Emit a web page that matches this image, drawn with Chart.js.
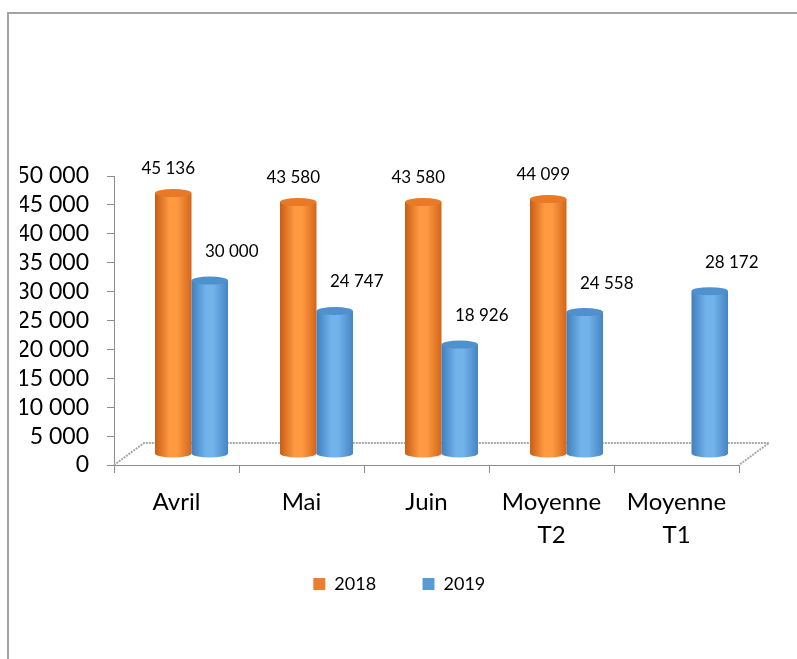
<!DOCTYPE html>
<html lang="fr">
<head>
  <meta charset="UTF-8">
  <title>2018 / 2019</title>
  <style>
    html, body { margin: 0; padding: 0; background: #fff; overflow: hidden; }
    #zone { position: relative; width: 797px; height: 659px; }
    #cadre {
      position: absolute; left: 7px; top: 12px; width: 900px; height: 700px;
      border-left: 2px solid #a3a3a3; border-top: 2px solid #a3a3a3;
    }
    #graphique { position: absolute; left: 0; top: 0; }
  </style>
</head>
<body>
  <div id="zone">
    <div id="cadre"></div>
    <canvas id="graphique" width="797" height="659"></canvas>
  </div>

  <script src="https://cdn.jsdelivr.net/npm/chart.js"></script>
  <script>
    // données
    const categories = ['Avril', 'Mai', 'Juin', ['Moyenne', 'T2'], ['Moyenne', 'T1']];
    const valeurs2018 = [45136, 43580, 43580, 44099, null];
    const valeurs2019 = [30000, 24747, 18926, 24558, 28172];
    const series = ['2018', '2019'];
    const ticksMax = 50000;
    const ticksPas = 5000;

    const POLICE = 'Lato, "Open Sans", sans-serif';
    const DX = 15, DY = -11, RY = 4;   // petit effet 3D

    function fmt(v) {
      return String(v).replace(/\B(?=(\d{3})+(?!\d))/g, ' ');
    }

    // teintes des cylindres: [bord sombre, clair, bord sombre, chapeau]
    const teintes = [
      ['#c95d15', '#ff9a42', '#d2661a', '#e87a27'],
      ['#3f7fbd', '#72b3ec', '#4684c2', '#4f90cf']
    ];

    function cylindre(ctx, l, r, t, b, tt) {
      const cx = (l + r) / 2, rx = (r - l) / 2;
      const g = ctx.createLinearGradient(l, 0, r, 0);
      g.addColorStop(0, tt[0]);
      g.addColorStop(0.4, tt[1]);
      g.addColorStop(0.6, tt[1]);
      g.addColorStop(1, tt[2]);
      ctx.fillStyle = g;
      ctx.beginPath();
      ctx.moveTo(l, t);
      ctx.lineTo(l, b);
      ctx.ellipse(cx, b, rx, RY, 0, Math.PI, 0, true);
      ctx.lineTo(r, t);
      ctx.closePath();
      ctx.fill();
      ctx.fillStyle = tt[3];
      ctx.beginPath();
      ctx.ellipse(cx, t, rx, RY, 0, 0, Math.PI * 2);
      ctx.fill();
    }

    const cylindres = {
      id: 'cylindres',
      beforeDatasetDraw() { return false; },
      beforeDatasetsDraw(chart) {
        // plancher
        const a = chart.chartArea, ctx = chart.ctx;
        ctx.save();
        ctx.strokeStyle = '#a8a8a8';
        ctx.lineWidth = 2;
        ctx.setLineDash([2, 1]);
        ctx.beginPath();
        ctx.moveTo(a.left, a.bottom);
        ctx.lineTo(a.left + 2 * DX, a.bottom + 2 * DY);
        ctx.lineTo(a.right + 2 * DX, a.bottom + 2 * DY);
        ctx.lineTo(a.right, a.bottom);
        ctx.stroke();
        ctx.restore();
      },
      afterDatasetsDraw(chart) {
        const ctx = chart.ctx;
        ctx.save();
        chart.data.datasets.forEach((ds, i) => {
          chart.getDatasetMeta(i).data.forEach((bar, j) => {
            if (ds.data[j] == null) return;
            const w = bar.width;
            cylindre(ctx, bar.x - w / 2 + DX, bar.x + w / 2 + DX, bar.y + DY, bar.base + DY, teintes[i]);
          });
        });
        // étiquettes de valeurs
        ctx.fillStyle = '#000';
        ctx.font = '17px ' + POLICE;
        ctx.textAlign = 'center';
        ctx.textBaseline = 'middle';
        chart.data.datasets.forEach((ds, i) => {
          chart.getDatasetMeta(i).data.forEach((bar, j) => {
            if (ds.data[j] == null) return;
            const ox = i === 0 ? -5 : 22;
            const oy = i === 0 ? 25 : 29;
            ctx.fillText(fmt(ds.data[j]), bar.x + DX + ox, bar.y + DY - oy);
          });
        });
        ctx.restore();
      }
    };

    new Chart(document.getElementById('graphique'), {
      type: 'bar',
      data: {
        labels: categories,
        datasets: [
          { label: series[0], data: valeurs2018, backgroundColor: '#ed7d31' },
          { label: series[1], data: valeurs2019, backgroundColor: '#5b9bd5' }
        ]
      },
      options: {
        responsive: false,
        animation: false,
        categoryPercentage: 0.584,
        barPercentage: 1,
        layout: { padding: { top: 176, bottom: 56, left: 20, right: 0 } },
        plugins: {
          legend: {
            position: 'bottom',
            labels: {
              boxWidth: 12, boxHeight: 12, padding: 28, color: '#000',
              font: { family: POLICE, size: 18 },
              generateLabels(chart) {
                const items = Chart.defaults.plugins.legend.labels.generateLabels(chart);
                items.forEach(it => { it.text = it.text + '    '; });
                return items;
              }
            }
          },
          tooltip: { enabled: false }
        },
        scales: {
          x: {
            grid: { drawOnChartArea: false, tickLength: 8, color: '#8c8c8c' },
            border: { color: '#8c8c8c' },
            ticks: { color: '#000', padding: 12, maxRotation: 0, autoSkip: false,
                     font: { family: POLICE, size: 24, lineHeight: 1.4 } },
            afterFit(s) { s.height = 82; }
          },
          y: {
            min: 0, max: ticksMax,
            grid: { drawOnChartArea: false, tickLength: 7, color: '#8c8c8c' },
            border: { color: '#8c8c8c' },
            ticks: { stepSize: ticksPas, padding: 18, color: '#000', autoSkip: false,
                     font: { family: POLICE, size: 23 }, callback: v => fmt(v) },
            afterFit(s) { s.width = 94; }
          },
          droite: {
            position: 'right', display: true,
            grid: { display: false }, border: { display: false }, ticks: { display: false },
            afterFit(s) { s.width = 58; }
          }
        }
      },
      plugins: [cylindres]
    });
  </script>
</body>
</html>
